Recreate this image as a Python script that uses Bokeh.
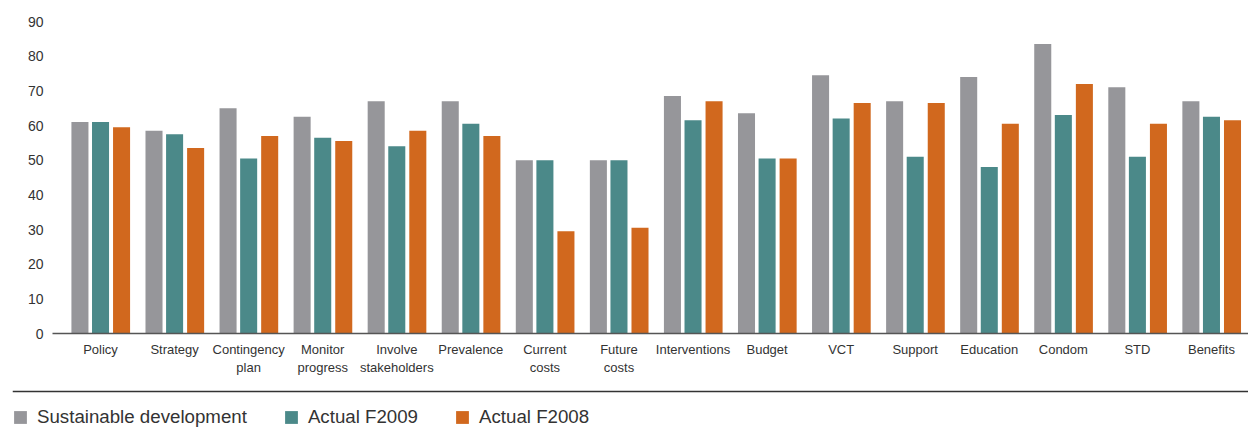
from bokeh.plotting import figure
from bokeh.models import (ColumnDataSource, FixedTicker, Legend, LegendItem,
                          Span, Range1d)
from bokeh.transform import dodge
from bokeh.embed import file_html
from bokeh.resources import INLINE

categories = ["Policy", "Strategy", "Contingency\nplan", "Monitor\nprogress",
              "Involve\nstakeholders", "Prevalence", "Current\ncosts", "Future\ncosts",
              "Interventions", "Budget", "VCT", "Support", "Education", "Condom",
              "STD", "Benefits"]
sustainable = [61, 58.5, 65, 62.5, 67, 67, 50, 50, 68.5, 63.5, 74.5, 67, 74, 83.5, 71, 67]
actual_f2009 = [61, 57.5, 50.5, 56.5, 54, 60.5, 50, 50, 61.5, 50.5, 62, 51, 48, 63, 51, 62.5]
actual_f2008 = [59.5, 53.5, 57, 55.5, 58.5, 57, 29.5, 30.5, 67, 50.5, 66.5, 66.5, 60.5, 72, 60.5, 61.5]
y_ticks = [0, 10, 20, 30, 40, 50, 60, 70, 80, 90]
series_names = ["Sustainable development", "Actual F2009", "Actual F2008"]

GRAY = "#96969a"
TEAL = "#4b8989"
ORANGE = "#d1681e"
TEXT = "#333333"
FONT = "Liberation Sans"

xs = list(range(len(categories)))
src = ColumnDataSource(dict(x=xs, s=sustainable, a9=actual_f2009, a8=actual_f2008))

# ---- main bar chart ----
p = figure(width=1248, height=385, output_backend="svg", toolbar_location=None,
           x_range=Range1d(-0.6485, 15.5), y_range=Range1d(0, 90),
           min_border_left=52, min_border_right=0, min_border_top=21,
           min_border_bottom=52)
p.outline_line_color = None
p.xgrid.grid_line_color = None
p.ygrid.grid_line_color = None

bw = 0.23
p.vbar(x=dodge("x", -0.278, range=p.x_range), top="s", width=bw, source=src,
       fill_color=GRAY, line_color=None)
p.vbar(x=dodge("x", 0.0, range=p.x_range), top="a9", width=bw, source=src,
       fill_color=TEAL, line_color=None)
p.vbar(x=dodge("x", 0.284, range=p.x_range), top="a8", width=bw, source=src,
       fill_color=ORANGE, line_color=None)

xa = p.xaxis[0]
xa.ticker = FixedTicker(ticks=xs)
xa.major_label_overrides = {i: c for i, c in enumerate(categories)}
xa.axis_line_color = "#555555"
xa.axis_line_width = 1.6
xa.major_tick_line_color = None
xa.minor_tick_line_color = None
xa.major_tick_out = 0
xa.major_tick_in = 0
xa.major_label_standoff = 8
xa.major_label_text_font = FONT
xa.major_label_text_font_size = "13px"
xa.major_label_text_color = TEXT

ya = p.yaxis[0]
ya.ticker = FixedTicker(ticks=y_ticks)
ya.axis_line_color = None
ya.major_tick_line_color = None
ya.minor_tick_line_color = None
ya.major_tick_out = 0
ya.major_tick_in = 0
ya.major_label_standoff = 9
ya.major_label_text_font = FONT
ya.major_label_text_font_size = "14px"
ya.major_label_text_color = TEXT

# ---- separator + legend strip (separate root, so its frame is not aligned) ----
p2 = figure(width=1248, height=42, output_backend="svg", toolbar_location=None,
            x_range=Range1d(0, 1), y_range=Range1d(0, 42),
            x_axis_type=None, y_axis_type=None,
            min_border_left=12, min_border_right=0, min_border_top=0,
            min_border_bottom=0)
p2.outline_line_color = None
p2.xgrid.grid_line_color = None
p2.ygrid.grid_line_color = None
p2.add_layout(Span(location=36, dimension="width", line_color="#333333",
                   line_width=1.5))

# legend-only renderers (their single placeholder bar lies outside the view)
dummy = ColumnDataSource(dict(x=[-5], top=[0]))
d1 = p2.vbar(x="x", top="top", width=1, source=dummy, fill_color=GRAY, line_color=None)
d2 = p2.vbar(x="x", top="top", width=1, source=dummy, fill_color=TEAL, line_color=None)
d3 = p2.vbar(x="x", top="top", width=1, source=dummy, fill_color=ORANGE, line_color=None)

legend = Legend(items=[LegendItem(label=series_names[0], renderers=[d1]),
                       LegendItem(label=series_names[1], renderers=[d2]),
                       LegendItem(label=series_names[2], renderers=[d3])],
                location=(0, -1), orientation="horizontal",
                glyph_width=16, glyph_height=16, label_standoff=9, spacing=36,
                padding=0, margin=0, border_line_color=None,
                background_fill_alpha=0,
                label_text_font=FONT, label_text_font_size="18.7px",
                label_text_color=TEXT)
p2.add_layout(legend)

open("out.html", "w").write(file_html([p, p2], INLINE))
